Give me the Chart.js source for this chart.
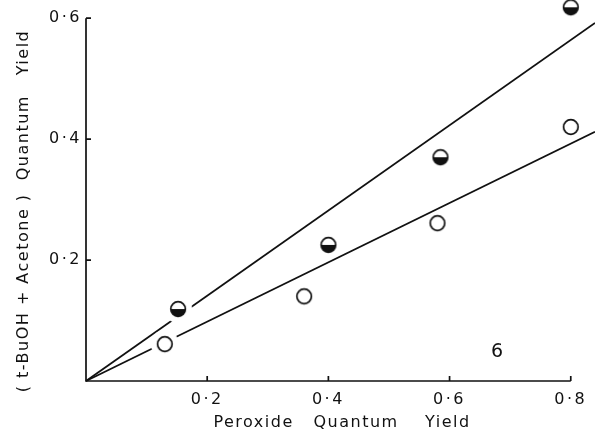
<!DOCTYPE html>
<html>
<head>
<meta charset="utf-8">
<style>
  html, body { margin: 0; padding: 0; background: #fff; }
  #wrap { width: 595px; height: 432px; }
</style>
<script src="https://cdn.jsdelivr.net/npm/chart.js@4/dist/chart.umd.min.js"></script>
</head>
<body>
<div id="wrap"><canvas id="c" width="595" height="432"></canvas></div>
<script>
// Open circles: peroxide yield vs (t-BuOH + acetone) yield
const peroxideYieldOpen = [0.13, 0.36, 0.58, 0.80];
const productYieldOpen  = [0.061, 0.14, 0.261, 0.42];
// Half-filled circles
const peroxideYieldHalf = [0.152, 0.40, 0.585, 0.80];
const productYieldHalf  = [0.119, 0.225, 0.37, 0.618];
// Straight lines through the origin
const fitX      = [0, 0.84];
const upperFitY = [0, 0.592];
const lowerFitY = [0, 0.412];
// Axis ticks and labels
const xTicks = [0.2, 0.4, 0.6, 0.8];
const yTicks = [0.2, 0.4, 0.6];
const xTitle = 'Peroxide   Quantum    Yield';
const yTitle = '( t-BuOH + Acetone )  Quantum   Yield';
const figureLabel = '6';

const INK = '#111';
const toPoints = (xs, ys) => xs.map((x, i) => ({ x, y: ys[i] }));
const fmtTick = v => Number(v).toFixed(1).replace('.', '\u00B7');

// Circle marker drawn on its own canvas; optional white clearance ring
function makeMarker(half, halo) {
  const r = 7.3;
  const size = halo ? 2 * halo + 2 : 20;
  const cv = document.createElement('canvas');
  cv.width = cv.height = size;
  const g = cv.getContext('2d');
  const c = size / 2;
  g.fillStyle = '#fff';
  if (halo) { g.beginPath(); g.arc(c, c, halo, 0, 2 * Math.PI); g.fill(); }
  g.beginPath(); g.arc(c, c, r, 0, 2 * Math.PI); g.fill();
  if (half) {
    g.fillStyle = INK;
    g.beginPath(); g.arc(c, c, r, 0, Math.PI); g.closePath(); g.fill();
  }
  g.strokeStyle = INK; g.lineWidth = 1.7;
  g.beginPath(); g.arc(c, c, r, 0, 2 * Math.PI); g.stroke();
  return cv;
}
const openMark = makeMarker(false, 0), openMarkClear = makeMarker(false, 14);
const halfMark = makeMarker(true, 0),  halfMarkClear = makeMarker(true, 14);

const decorations = {
  id: 'decorations',
  beforeDraw(chart) {
    const ctx = chart.ctx;
    ctx.save();
    ctx.fillStyle = '#fff';
    ctx.fillRect(0, 0, chart.width, chart.height);
    ctx.restore();
    ctx.letterSpacing = '2.5px';
  },
  beforeDatasetsDraw(chart) { chart.ctx.letterSpacing = '0px'; },
  afterDraw(chart) {
    const ctx = chart.ctx, xs = chart.scales.x, ys = chart.scales.y;
    const x0 = xs.getPixelForValue(0), y0 = ys.getPixelForValue(0);
    ctx.save();
    ctx.strokeStyle = INK; ctx.lineWidth = 1.7; ctx.lineCap = 'butt';
    ctx.beginPath();
    ctx.moveTo(x0, ys.getPixelForValue(yTicks[yTicks.length - 1]));
    ctx.lineTo(x0, y0);
    ctx.lineTo(xs.getPixelForValue(xTicks[xTicks.length - 1]), y0);
    xTicks.forEach(v => { const p = xs.getPixelForValue(v); ctx.moveTo(p, y0); ctx.lineTo(p, y0 - 5); });
    yTicks.forEach(v => { const p = ys.getPixelForValue(v); ctx.moveTo(x0, p); ctx.lineTo(x0 + 5, p); });
    ctx.stroke();

    ctx.fillStyle = INK;
    ctx.font = '16px "DejaVu Sans"';
    ctx.letterSpacing = '1.5px';
    ctx.textAlign = 'center';
    ctx.textBaseline = 'alphabetic';
    ctx.fillText(xTitle, 342, 427);

    ctx.save();
    ctx.translate(28, 211);
    ctx.rotate(-Math.PI / 2);
    ctx.fillText(yTitle, 0, 0);
    ctx.restore();

    ctx.letterSpacing = '0px';
    ctx.font = '19px "DejaVu Sans"';
    ctx.fillText(figureLabel, 497, 357);
    ctx.restore();
  }
};

const tickFont = { family: 'DejaVu Sans', size: 16 };
// Fixed axis boxes: no extra room reserved for the end tick labels
const fixBox = (s, w, h) => {
  if (w !== undefined) s.width = w;
  if (h !== undefined) s.height = h;
  s.paddingLeft = s.paddingRight = s.paddingTop = s.paddingBottom = 0;
};

new Chart(document.getElementById('c'), {
  type: 'scatter',
  data: {
    datasets: [
      {
        label: 'open',
        data: toPoints(peroxideYieldOpen, productYieldOpen),
        pointStyle: c => (c.dataIndex === 0 ? openMarkClear : openMark),
        pointRadius: 7,
        clip: false,
        order: 1
      },
      {
        label: 'half',
        data: toPoints(peroxideYieldHalf, productYieldHalf),
        pointStyle: c => (c.dataIndex === 0 ? halfMarkClear : halfMark),
        pointRadius: 7,
        clip: false,
        order: 1
      },
      {
        label: 'upper line',
        data: toPoints(fitX, upperFitY),
        showLine: true, pointRadius: 0, borderColor: INK, borderWidth: 1.8,
        tension: 0, clip: false, order: 2
      },
      {
        label: 'lower line',
        data: toPoints(fitX, lowerFitY),
        showLine: true, pointRadius: 0, borderColor: INK, borderWidth: 1.8,
        tension: 0, clip: false, order: 2
      }
    ]
  },
  options: {
    responsive: false,
    animation: false,
    devicePixelRatio: 1,
    events: [],
    layout: { padding: 0, autoPadding: false },
    plugins: { legend: { display: false }, tooltip: { enabled: false } },
    scales: {
      x: {
        type: 'linear', min: 0, max: 0.84,
        afterFit(s) { fixBox(s, undefined, 51); },
        afterBuildTicks(s) { s.ticks = xTicks.map(v => ({ value: v })); },
        grid: { display: false, drawTicks: false },
        border: { display: false },
        ticks: { padding: 9, color: INK, font: tickFont, maxRotation: 0, autoSkip: false, callback: fmtTick }
      },
      y: {
        type: 'linear', min: 0, max: 0.63,
        afterFit(s) { fixBox(s, 86, undefined); },
        afterBuildTicks(s) { s.ticks = yTicks.map(v => ({ value: v })); },
        grid: { display: false, drawTicks: false },
        border: { display: false },
        ticks: { padding: 4, color: INK, font: tickFont, callback: fmtTick }
      }
    }
  },
  plugins: [decorations]
});
</script>
</body>
</html>
